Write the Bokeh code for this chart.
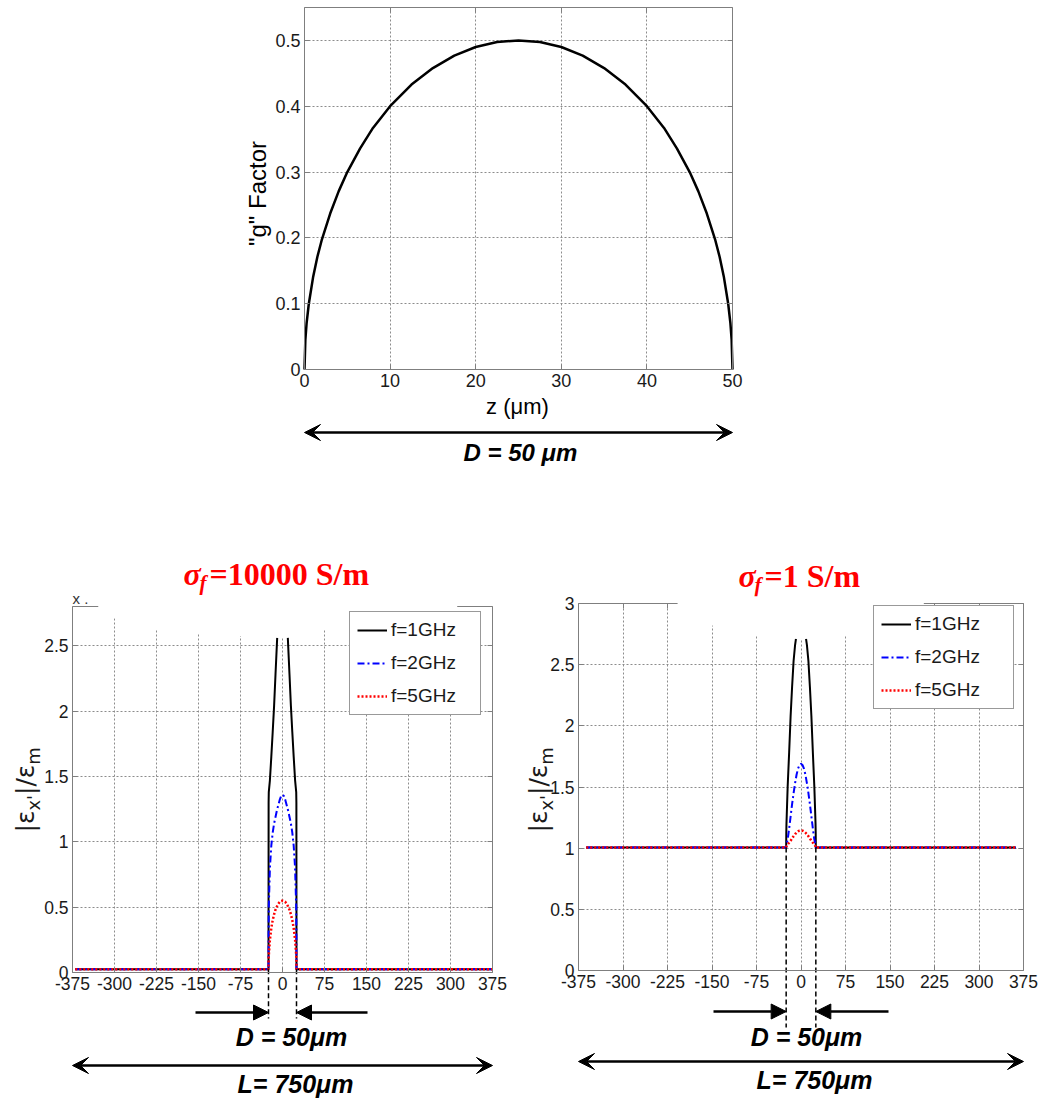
import numpy as np
from bokeh.plotting import figure
from bokeh.layouts import column, row
from bokeh.models import (Range1d, LinearAxis, Grid, FixedTicker, Arrow, NormalHead,
                          VeeHead, Legend, LegendItem, BoxAnnotation)
from bokeh.core.properties import value
from bokeh.embed import file_html
from bokeh.resources import INLINE

nan = float("nan")

# ---------------- data ----------------
D_um = 50
L_um = 750

# top panel: "g" factor across the fibre diameter
z_um = [0, 0.1, 0.25, 0.5, 1, 1.5, 2, 3, 4, 5, 6.5, 8, 10, 12.5, 15, 17.5, 20, 22.5, 25,
        27.5, 30, 32.5, 35, 37.5, 40, 42, 43.5, 45, 46, 47, 48, 48.5, 49, 49.5, 49.75, 49.9, 50]
g_factor = [0, 0.045, 0.071, 0.0995, 0.14, 0.171, 0.196, 0.237, 0.271, 0.300, 0.336, 0.367,
            0.400, 0.433, 0.458, 0.477, 0.490, 0.4975, 0.500,
            0.4975, 0.490, 0.477, 0.458, 0.433, 0.400, 0.367, 0.336, 0.300, 0.271, 0.237,
            0.196, 0.171, 0.140, 0.0995, 0.071, 0.045, 0]
g_xticks = [0, 10, 20, 30, 40, 50]
g_xlabels = ["0", "10", "20", "30", "40", "50"]
g_yticks = [0, 0.1, 0.2, 0.3, 0.4, 0.5]
g_ylabels = ["0", "0.1", "0.2", "0.3", "0.4", "0.5"]

# bottom panels: shared x positions inside the fibre
x_in = [-25, -24.8, -24.5, -22.5, -20, -17.5, -15, -12.5, -10, -7.5, -5, -2.5, 0,
        2.5, 5, 7.5, 10, 12.5, 15, 17.5, 20, 22.5, 24.5, 24.8, 25]

# sigma_f = 10000 S/m
x_a = [-370] + x_in + [375]
eps_a_2GHz = [0.025, 0.025, 0.30, 0.50, 0.80, 0.97, 1.07, 1.14, 1.19, 1.24, 1.28, 1.32, 1.35, 1.36,
              1.35, 1.32, 1.28, 1.24, 1.19, 1.14, 1.07, 0.97, 0.80, 0.50, 0.30, 0.025, 0.025]
eps_a_5GHz = [0.025, 0.025, 0.10, 0.13, 0.25, 0.34, 0.40, 0.445, 0.48, 0.505, 0.525, 0.54, 0.547, 0.55,
              0.547, 0.54, 0.525, 0.505, 0.48, 0.445, 0.40, 0.34, 0.25, 0.13, 0.10, 0.025, 0.025]
x_a_1GHz = [-370, -25, -24.8, -24.5, -22.5, -20, -17.5, -15, -12.5, -9.5, 0,
            9.5, 12.5, 15, 17.5, 20, 22.5, 24.5, 24.8, 25, 375]
eps_a_1GHz = [0.025, 0.025, 1.30, 1.38, 1.47, 1.65, 1.84, 2.04, 2.28, 2.56, nan,
              2.56, 2.28, 2.04, 1.84, 1.65, 1.47, 1.38, 1.30, 0.025, 0.025]

# sigma_f = 1 S/m
x_b = [-362] + x_in + [362]
eps_b_2GHz = [1.005, 1.005, 1.02, 1.03, 1.07, 1.16, 1.26, 1.36, 1.45, 1.53, 1.60, 1.65, 1.68, 1.69,
              1.68, 1.65, 1.60, 1.53, 1.45, 1.36, 1.26, 1.16, 1.07, 1.03, 1.02, 1.005, 1.005]
eps_b_5GHz = [1.005, 1.005, 1.01, 1.015, 1.03, 1.045, 1.06, 1.08, 1.098, 1.114, 1.127, 1.137, 1.143, 1.145,
              1.143, 1.137, 1.127, 1.114, 1.098, 1.08, 1.06, 1.045, 1.03, 1.015, 1.01, 1.005, 1.005]
x_b_1GHz = [-362, -25, -24.8, -24.5, -22.5, -20, -17.5, -15, -12.5, -10, -8.5, 0,
            8.5, 10, 12.5, 15, 17.5, 20, 22.5, 24.5, 24.8, 25, 362]
eps_b_1GHz = [1.005, 1.005, 1.12, 1.20, 1.50, 1.78, 2.08, 2.32, 2.53, 2.66, 2.71, nan,
              2.71, 2.66, 2.53, 2.32, 2.08, 1.78, 1.50, 1.20, 1.12, 1.005, 1.005]

series_labels = ["f=1GHz", "f=2GHz", "f=5GHz"]
z_ticks = [-375, -300, -225, -150, -75, 0, 75, 150, 225, 300, 375]
z_labels = ["-375", "-300", "-225", "-150", "-75", "0", "75", "150", "225", "300", "375"]
a_yticks = [0, 0.5, 1, 1.5, 2, 2.5]
a_ylabels = ["0", "0.5", "1", "1.5", "2", "2.5"]
b_yticks = [0, 0.5, 1, 1.5, 2, 2.5, 3]
b_ylabels = ["0", "0.5", "1", "1.5", "2", "2.5", "3"]

# ---------------- styling ----------------
SANS = "Liberation Sans"
SERIF = "Liberation Serif"
AX = "#7f7f7f"
GRID = "#8c8c8c"
TXT = "#1a1a1a"


def make_fig(W, H, frame, xlim, ylim, offx=0, offy=0):
    L, T, R, B = frame
    kx = (xlim[1] - xlim[0]) / (R - L)
    ky = (ylim[1] - ylim[0]) / (B - T)
    p = figure(width=W, height=H,
               x_range=Range1d(xlim[0] - L * kx, xlim[1] + (W - R) * kx),
               y_range=Range1d(ylim[0] - (H - B) * ky, ylim[1] + T * ky),
               x_axis_type=None, y_axis_type=None, toolbar_location=None,
               output_backend="svg", min_border=0, outline_line_color=None,
               background_fill_color="white", border_fill_color="white")

    def px(v):
        return xlim[0] + (v - offx - L) * kx

    def py(v):
        return ylim[1] - (v - offy - T) * ky
    return p, px, py


def add_axes(p, xlim, ylim, xt, xl, yt, yl, fs):
    common = dict(axis_line_color=AX, axis_line_width=1, major_tick_line_color=AX,
                  major_tick_in=5, major_tick_out=0, minor_tick_line_color=None,
                  major_label_text_font=SANS, major_label_text_font_size=fs,
                  major_label_text_color=TXT, major_label_standoff=4)
    xa = LinearAxis(fixed_location=ylim[0], bounds=xlim, ticker=FixedTicker(ticks=xt),
                    major_label_overrides=dict(zip(xt, xl)), **common)
    p.add_layout(xa, "below")
    ya = LinearAxis(fixed_location=xlim[0], bounds=ylim, ticker=FixedTicker(ticks=yt),
                    major_label_overrides=dict(zip(yt, yl)), **common)
    p.add_layout(ya, "left")
    hid = dict(common)
    hid["major_label_text_color"] = None
    ta = LinearAxis(fixed_location=ylim[1], bounds=xlim, ticker=FixedTicker(ticks=xt), **hid)
    p.add_layout(ta, "above")
    ra = LinearAxis(fixed_location=xlim[1], bounds=ylim, ticker=FixedTicker(ticks=yt), **hid)
    p.add_layout(ra, "right")
    gx = Grid(dimension=0, ticker=FixedTicker(ticks=[t for t in xt if xlim[0] < t < xlim[1]]),
              cross_bounds=ylim, grid_line_color=GRID, grid_line_dash="2 2", grid_line_width=1)
    gy = Grid(dimension=1, ticker=FixedTicker(ticks=[t for t in yt if ylim[0] < t < ylim[1]]),
              cross_bounds=xlim, grid_line_color=GRID, grid_line_dash="2 2", grid_line_width=1)
    p.add_layout(gx)
    p.add_layout(gy)


def txt(p, x, y, s, size, font=SANS, style="normal", color="black", align="center", angle=0):
    p.text(x=[x], y=[y], text=[s], text_font=value(font), text_font_size=size,
           text_font_style=style, text_color=color, text_align=align,
           text_baseline="middle", angle=angle)


# ---------------- top panel ----------------
g_xlim, g_ylim = (0, D_um), (0, 0.55)
top, tx, ty = make_fig(1054, 480, (304, 7, 732, 369), g_xlim, g_ylim)
add_axes(top, g_xlim, g_ylim, g_xticks, g_xlabels, g_yticks, g_ylabels, "18px")
top.line(z_um, g_factor, line_color="black", line_width=2.5)
txt(top, tx(257), ty(193), '"g" Factor', "24px", angle=np.pi / 2)
txt(top, tx(517), ty(406), "z (\u03bcm)", "22px")
top.add_layout(Arrow(start=VeeHead(size=16, fill_color="black", line_color="black"),
                     end=VeeHead(size=16, fill_color="black", line_color="black"),
                     x_start=0, y_start=ty(432), x_end=D_um, y_end=ty(432),
                     line_width=2.5, line_color="black"))
txt(top, tx(520), ty(452), "D = 50 \u03bcm", "24px", style="bold italic")


# ---------------- bottom panels ----------------
def bottom_panel(W, frame, ylim, offx, xs, ys_list, xb, yb, yt, yl, base, title_rest,
                 title_px, legend_box, mask_x, mask_y, legend_gap, ylab_px, dash_bot, arr_y,
                 arr_tails, dtext, larr_y, ltext, xmark=False):
    xlim = (-L_um / 2, L_um / 2)
    p, px, py = make_fig(W, 619, frame, xlim, ylim, offx=offx, offy=480)
    add_axes(p, xlim, ylim, z_ticks, z_labels, yt, yl, "17.5px")
    r1 = p.line(xb, yb, line_color="black", line_width=2)
    r2 = p.line(xs, ys_list[0], line_color="blue", line_width=2, line_dash="7 3 2 3")
    r3 = p.line(xs, ys_list[1], line_color="red", line_width=2.5, line_dash="2 2")
    lg = Legend(items=[LegendItem(label=series_labels[0], renderers=[r1]),
                       LegendItem(label=series_labels[1], renderers=[r2]),
                       LegendItem(label=series_labels[2], renderers=[r3])],
                location=(legend_box[0] - offx, 1099 - legend_box[3]),
                border_line_color="#333333", border_line_width=1,
                background_fill_color="white", background_fill_alpha=1,
                label_text_font=SANS, label_text_font_size="19px", label_text_color=TXT,
                glyph_width=30, glyph_height=22, label_height=22, label_standoff=4,
                padding=7, spacing=11, margin=0,
                label_width=legend_box[2] - legend_box[0] - 7 - 30 - 4 - 7)
    p.add_layout(lg)
    # white masking of the original figure's top edge
    gl, gr = legend_gap
    p.add_layout(BoxAnnotation(left=px(gl), right=px(gr),
                               top=py(legend_box[1] - 4), bottom=py(legend_box[1] + 3),
                               fill_color="white", fill_alpha=1, line_color=None,
                               level="overlay"))
    m = p.patch(mask_x, mask_y, fill_color="white", line_color=None)
    m.level = "overlay"
    # title
    tx0, tyy = title_px
    txt(p, px(tx0), py(tyy), "\u03c3", "32px", font=SERIF, style="bold italic", color="red", align="left")
    txt(p, px(tx0 + 16), py(tyy + 9), "f", "21px", font=SERIF, style="bold italic", color="red", align="left")
    txt(p, px(tx0 + 26), py(tyy), title_rest, "32px", font=SERIF, style="bold", color="red", align="left")
    if xmark:
        txt(p, px(frame[0] + offx), py(598), "x  .", "15px", color="#333333", align="left")
    # y label |eps_x'|/eps_m, built from pieces read bottom-to-top
    xm, xs_, yb0 = ylab_px
    pieces = [("|\u03b5", "25px", xm, 21.9), ("x'", "18px", xs_, 15.6),
              ("|/\u03b5", "25px", xm, 30.3), ("m", "18px", xs_, 17.5)]
    ycur = yb0
    for s, fs, xx, w in pieces:
        txt(p, px(xx), py(ycur), s, fs, font="DejaVu Sans", color=TXT, align="left", angle=np.pi / 2)
        ycur -= w
    # D markers
    p.segment(x0=[-D_um / 2, D_um / 2], y0=[base, base], x1=[-D_um / 2, D_um / 2],
              y1=[py(dash_bot), py(dash_bot)], line_color="black", line_width=1.5, line_dash="5 3")
    for tail, tip in ((arr_tails[0], -D_um / 2), (arr_tails[1], D_um / 2)):
        p.add_layout(Arrow(end=NormalHead(size=15, fill_color="black", line_color="black"),
                           x_start=px(tail), y_start=py(arr_y), x_end=tip, y_end=py(arr_y),
                           line_width=2.5, line_color="black"))
    txt(p, px(dtext[0]), py(dtext[1]), "D = 50\u03bcm", "25px", style="bold italic")
    p.add_layout(Arrow(start=VeeHead(size=16, fill_color="black", line_color="black"),
                       end=VeeHead(size=16, fill_color="black", line_color="black"),
                       x_start=-L_um / 2, y_start=py(larr_y), x_end=L_um / 2, y_end=py(larr_y),
                       line_width=2.5, line_color="black"))
    txt(p, px(ltext[0]), py(ltext[1]), "L= 750\u03bcm", "25px", style="bold italic")
    return p


left = bottom_panel(
    520, (72, 126, 492, 492), (0, 2.8), 0, x_a, [eps_a_2GHz, eps_a_5GHz], x_a_1GHz, eps_a_1GHz,
    a_yticks, a_ylabels, 0.025, "=10000 S/m", (183, 573), (349, 615, 479, 715),
    [-329, -329, -300, -225, -150, -75, 0, 75, 116, 116, 276, 278, 300, 312, 312],
    [2.86, 2.79, 2.71, 2.62, 2.59, 2.575, 2.56, 2.62, 2.66, 2.69, 2.69, 2.75, 2.75, 2.79, 2.86],
    (346, 437), (25, 33, 832), 1018, 1012, (195, 367), (291, 1036), 1065, (295, 1083), xmark=True)

right = bottom_panel(
    534, (58, 123, 503, 490), (0, 3), 520, x_b, [eps_b_2GHz, eps_b_5GHz], x_b_1GHz, eps_b_1GHz,
    b_yticks, b_ylabels, 1.005, "=1 S/m", (738, 575), (873, 613, 1012, 709),
    [-208, -208, -150, -75, 0, 75, 150, 186, 186, 207, 207],
    [3.06, 2.97, 2.82, 2.74, 2.71, 2.74, 2.88, 2.88, 2.96, 2.97, 3.06],
    (870, 910), (538, 546, 832), 1027, 1011, (713, 888), (806, 1036), 1061, (814, 1079))

layout = column(top, row(left, right, spacing=0), spacing=0)
open("out.html", "w").write(file_html(layout, INLINE))
